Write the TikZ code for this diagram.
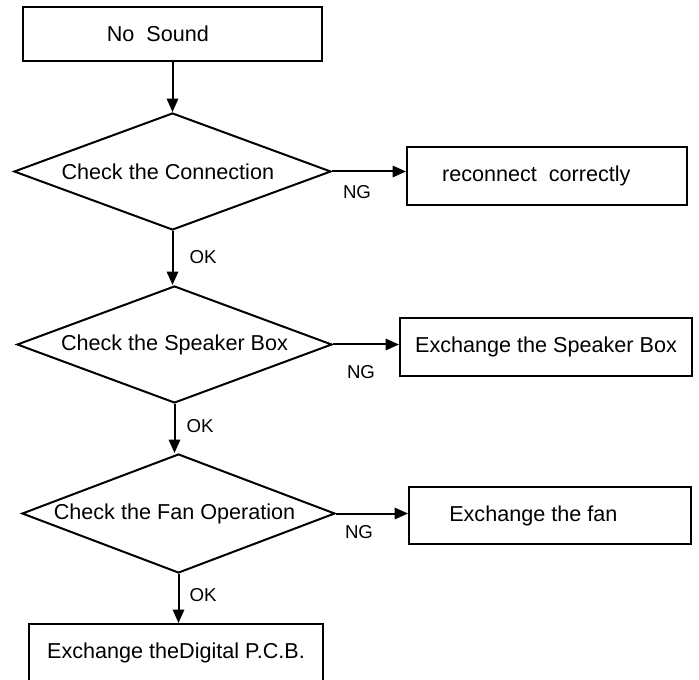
\documentclass[tikz,border=0pt]{standalone}
\usepackage{fontspec}
\setmainfont{Liberation Sans}
\usetikzlibrary{arrows.meta,shapes.geometric}

\begin{document}
\begin{tikzpicture}[x=0.75pt,y=-0.75pt,>={Triangle[length=10pt,width=8.5pt]},
  font=\fontsize{16.2}{19}\selectfont,
  box/.style={draw,line width=1.5pt,minimum height=43.5pt,inner sep=0pt},
  chk/.style={draw,diamond,line width=1.5pt,aspect=2.7,inner sep=0pt},
  arr/.style={->,line width=1.5pt},
  lbl/.style={font=\fontsize{14}{16}\selectfont,inner sep=0pt}]
\useasboundingbox (0,0) rectangle (699,680);
% main column
\node[box,minimum width=224.25pt,minimum height=40.5pt] (start) at (172.5,34) {No\ \ Sound\hspace*{22pt}};
\node[chk,minimum width=237.75pt,minimum height=87.75pt] (conn) at (172.5,171.5) {Check the Connection\hspace*{7pt}};
\node[chk,minimum width=236.25pt,minimum height=87.75pt] (spk) at (174.5,344.5) {Check the Speaker Box};
\node[chk,minimum width=234.75pt,minimum height=89.25pt] (fan) at (178.5,513.5) {Check the Fan Operation\hspace*{6pt}};
\node[box,minimum width=220.5pt] (pcb) at (176,653) {Exchange theDigital P.C.B.};
% fixes on the right
\node[box,minimum width=210pt] (reconn) at (547,176) {reconnect\ \ correctly\hspace*{16pt}};
\node[box,minimum width=219pt] (exspk) at (546,347) {Exchange the Speaker Box};
\node[box,minimum width=211.5pt,minimum height=42.75pt] (exfan) at (550,515.5) {Exchange the fan\hspace*{25pt}};
% flow
\draw[arr] (start.south) -- (start.south |- conn.north);
\draw[arr] (conn.south) -- (conn.south |- spk.north);
\draw[arr] (spk.south) -- (spk.south |- fan.north);
\draw[arr] (fan.south) -- (fan.south |- pcb.north);
\draw[arr] (conn.east) -- (conn.east -| reconn.west);
\draw[arr] (spk.east) -- (spk.east -| exspk.west);
\draw[arr] (fan.east) -- (fan.east -| exfan.west);
% labels
\node[lbl] (ok1) at (203,257) {OK};
\node[lbl] (ok2) at (200,426) {OK};
\node[lbl] (ok3) at (203,595) {OK};
\node[lbl] (ng1) at (357,192) {NG};
\node[lbl] (ng2) at (361,372) {NG};
\node[lbl] (ng3) at (359,532) {NG};
\end{tikzpicture}
\end{document}
